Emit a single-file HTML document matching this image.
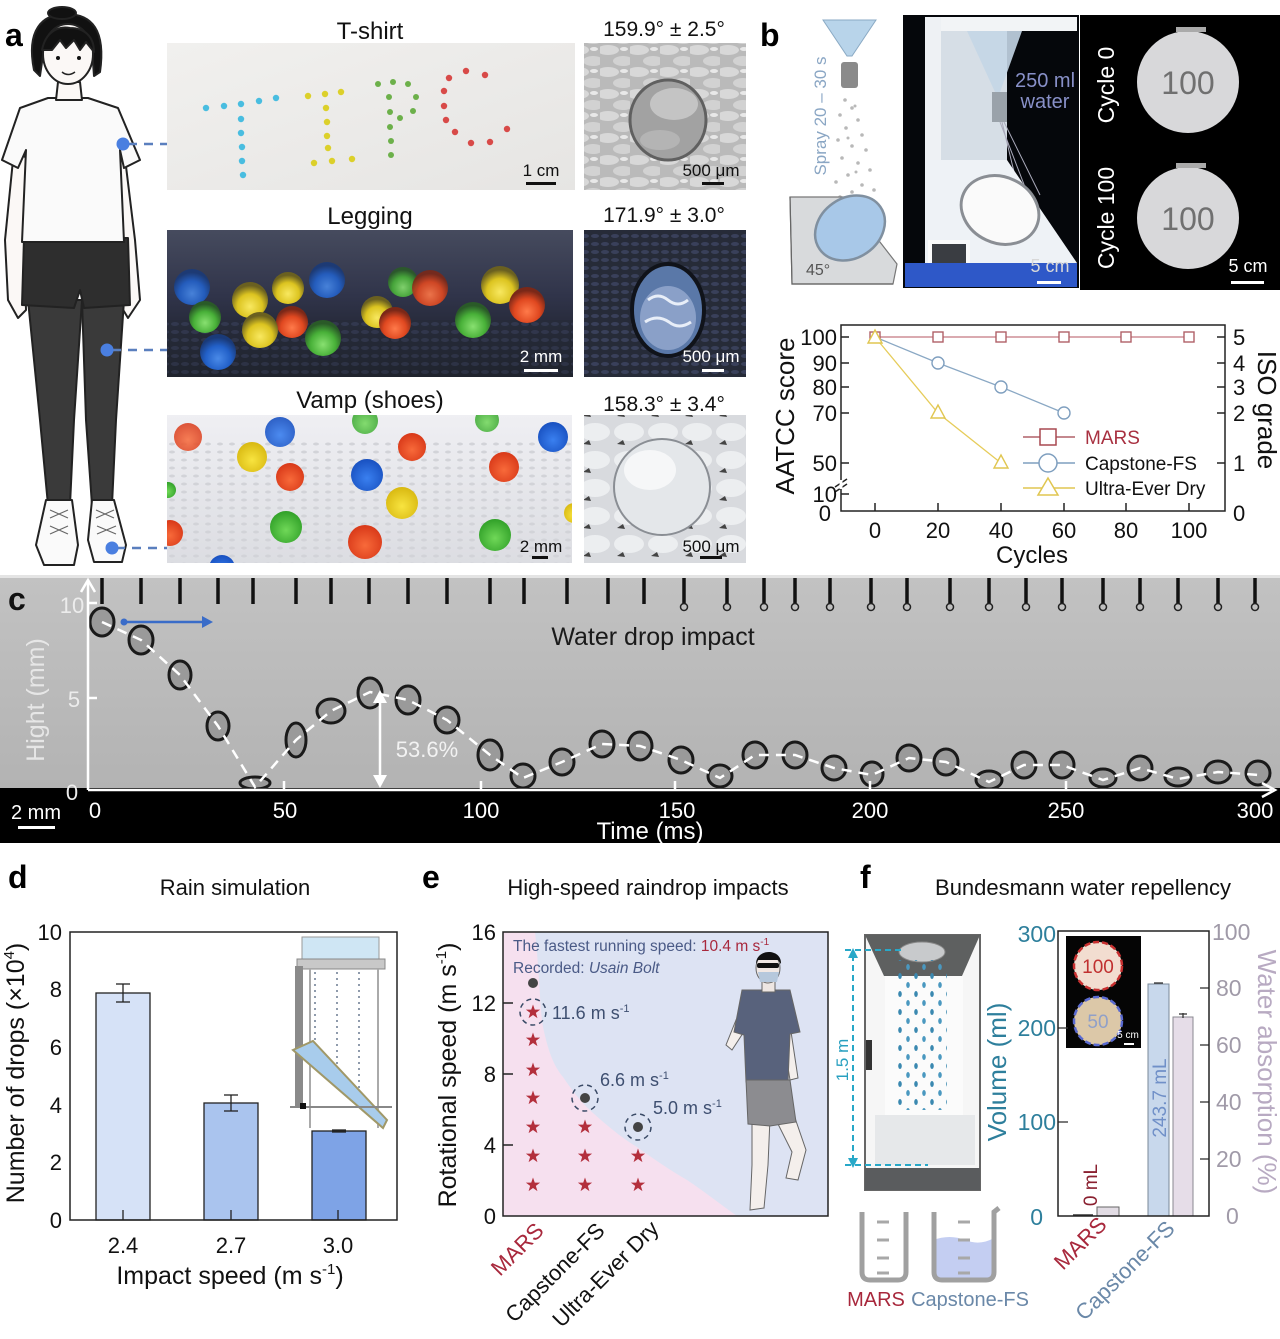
<!DOCTYPE html>
<html><head><meta charset="utf-8"><style>
html,body{margin:0;padding:0;background:#fff;}
svg{display:block;font-family:"Liberation Sans",Arial,sans-serif;}
</style></head><body>
<svg width="1280" height="1339" viewBox="0 0 1280 1339" xmlns="http://www.w3.org/2000/svg">
<defs>
  <radialGradient id="gBlue" cx="50%" cy="68%" r="58%"><stop offset="0" stop-color="#4a8ae8"/><stop offset="0.6" stop-color="#2260c8"/><stop offset="1" stop-color="#1a3a78"/></radialGradient>
  <radialGradient id="gGreen" cx="50%" cy="68%" r="58%"><stop offset="0" stop-color="#88e070"/><stop offset="0.6" stop-color="#48b038"/><stop offset="1" stop-color="#2a5a28"/></radialGradient>
  <radialGradient id="gYellow" cx="50%" cy="68%" r="58%"><stop offset="0" stop-color="#f8e860"/><stop offset="0.6" stop-color="#dcc420"/><stop offset="1" stop-color="#6a6020"/></radialGradient>
  <radialGradient id="gRed" cx="50%" cy="68%" r="58%"><stop offset="0" stop-color="#ff7a4a"/><stop offset="0.6" stop-color="#e04820"/><stop offset="1" stop-color="#7a2818"/></radialGradient>
  <radialGradient id="vBlue" cx="50%" cy="60%" r="60%"><stop offset="0" stop-color="#3a80f0"/><stop offset="1" stop-color="#1850c0"/></radialGradient>
  <radialGradient id="vGreen" cx="50%" cy="60%" r="60%"><stop offset="0" stop-color="#70d858"/><stop offset="1" stop-color="#30a028"/></radialGradient>
  <radialGradient id="vYellow" cx="50%" cy="60%" r="60%"><stop offset="0" stop-color="#f8e440"/><stop offset="1" stop-color="#d8b810"/></radialGradient>
  <radialGradient id="vRed" cx="50%" cy="60%" r="60%"><stop offset="0" stop-color="#f86a3a"/><stop offset="1" stop-color="#d83818"/></radialGradient>
  <linearGradient id="legBg" x1="0" y1="0" x2="0" y2="1"><stop offset="0" stop-color="#464b5e"/><stop offset="0.45" stop-color="#30344a"/><stop offset="1" stop-color="#17191f"/></linearGradient>
  <linearGradient id="tBg" x1="0" y1="0" x2="1" y2="1"><stop offset="0" stop-color="#f1f0ee"/><stop offset="1" stop-color="#e6e5e3"/></linearGradient>
  <linearGradient id="vBg" x1="0" y1="0" x2="0" y2="1"><stop offset="0" stop-color="#efeff3"/><stop offset="1" stop-color="#dcdde2"/></linearGradient>
  <linearGradient id="cBg" x1="0" y1="0" x2="0" y2="1"><stop offset="0" stop-color="#c2c2c2"/><stop offset="1" stop-color="#b3b3b3"/></linearGradient>
  <pattern id="knit1" width="30" height="22" patternUnits="userSpaceOnUse"><rect width="30" height="22" fill="#bababa"/><ellipse cx="8" cy="6" rx="11" ry="5" fill="#d8d8d8"/><ellipse cx="23" cy="17" rx="10" ry="5" fill="#d2d2d2"/><ellipse cx="24" cy="5" rx="4" ry="2" fill="#e8e8e8"/></pattern>
  <pattern id="knit2" width="10" height="8" patternUnits="userSpaceOnUse"><rect width="10" height="8" fill="#262b38"/><ellipse cx="5" cy="4" rx="4" ry="2" fill="#39405a"/></pattern>
  <pattern id="knit3" width="34" height="28" patternUnits="userSpaceOnUse"><rect width="34" height="28" fill="#d8dade"/><ellipse cx="17" cy="12" rx="15" ry="9" fill="#eceef0"/><path d="M5 24 l6 -4 l2 5z" fill="#444"/></pattern>
  <pattern id="dots" width="12" height="8" patternUnits="userSpaceOnUse"><ellipse cx="4" cy="4" rx="3" ry="1.5" fill="#d2d3d8"/></pattern>
  <pattern id="rain" width="16" height="18" patternUnits="userSpaceOnUse"><ellipse cx="4" cy="4" rx="1.8" ry="3" fill="#3a88b0"/><ellipse cx="12" cy="13" rx="1.8" ry="3" fill="#4a98c0"/></pattern>
  <clipPath id="cp1"><rect x="167" y="43" width="408" height="147"/></clipPath>
  <clipPath id="cp2"><rect x="167" y="230" width="406" height="147"/></clipPath>
  <clipPath id="cp3"><rect x="167" y="415" width="405" height="148"/></clipPath>
  <clipPath id="cs1"><rect x="584" y="43" width="162" height="147"/></clipPath>
  <clipPath id="cs3"><rect x="584" y="415" width="162" height="148"/></clipPath>
  <path id="star" d="M0,-7.5 L1.76,-2.43 L7.13,-2.32 L2.85,0.93 L4.41,6.07 L0,3 L-4.41,6.07 L-2.85,0.93 L-7.13,-2.32 L-1.76,-2.43Z" fill="#b32f3c"/>
</defs>

<!-- ================= PANEL A ================= -->
<text x="5" y="46" font-size="32" font-weight="bold">a</text>
<g stroke="#222" stroke-width="2" stroke-linejoin="round">
  <path d="M14 150 L5 240 L8 300 L18 318 L26 310 L24 240 L30 160Z" fill="#fbf8f6"/>
  <path d="M124 150 L135 240 L140 300 L128 318 L122 308 L118 240 L112 160Z" fill="#fbf8f6"/>
  <path d="M28 300 L82 300 L74 420 L70 505 L48 505 L40 420Z" fill="#3a3a3a"/>
  <path d="M82 300 L124 300 L116 420 L112 505 L92 505 L86 420Z" fill="#3a3a3a"/>
  <path d="M24 238 L128 238 L130 305 L84 308 L80 290 L74 308 L22 305Z" fill="#2e2e2e"/>
  <path d="M48 98 L88 98 L118 108 L140 160 L124 168 L120 150 L124 242 L22 242 L26 150 L18 168 L2 160 L20 108Z" fill="#fafafa"/>
  <path d="M58 82 L80 82 L82 100 L56 100Z" fill="#fbf8f6"/>
  <path d="M34 70 C26 30 42 14 66 14 C92 14 106 30 100 72 L94 76 L92 48 L44 48 L40 76Z" fill="#111"/>
  <ellipse cx="68" cy="54" rx="25" ry="30" fill="#fbf8f6"/>
  <path d="M42 50 C46 30 60 26 70 28 C84 28 94 36 94 52 L86 42 L80 50 L74 40 L66 48 L60 40 L52 50Z" fill="#111"/>
  <ellipse cx="62" cy="13" rx="14" ry="6" fill="#111"/>
  <path d="M46 500 L72 500 L78 545 L74 565 L44 565 L36 545Z" fill="#fafafa"/>
  <path d="M92 500 L114 500 L126 545 L122 562 L94 562 L88 540Z" fill="#fafafa"/>
</g>
<g stroke="#666" stroke-width="1.2">
  <path d="M50 510 L68 518 M50 518 L68 510 M50 526 L68 534 M50 534 L68 526"/>
  <path d="M96 510 L114 518 M96 518 L114 510 M97 526 L116 534 M97 534 L116 526"/>
</g>
<circle cx="58" cy="58" r="2" fill="#111"/><circle cx="79" cy="58" r="2" fill="#111"/>
<path d="M62 72 Q68 77 75 72" stroke="#222" stroke-width="1.5" fill="none"/>
<g stroke="#5a7fbe" stroke-width="2.5" stroke-dasharray="9 7">
  <line x1="128" y1="144" x2="198" y2="144"/>
  <line x1="112" y1="350" x2="180" y2="350"/>
  <line x1="116" y1="548" x2="180" y2="548"/>
</g>
<circle cx="123" cy="144" r="6.5" fill="#4a7fe0"/>
<circle cx="107" cy="350" r="6.5" fill="#4a7fe0"/>
<circle cx="112" cy="548" r="6.5" fill="#4a7fe0"/>

<g font-size="24" text-anchor="middle" fill="#111">
  <text x="370" y="39">T-shirt</text>
  <text x="370" y="224">Legging</text>
  <text x="370" y="408">Vamp (shoes)</text>
</g>
<g font-size="21" text-anchor="middle" fill="#111">
  <text x="664" y="36">159.9° ± 2.5°</text>
  <text x="664" y="222">171.9° ± 3.0°</text>
  <text x="664" y="411">158.3° ± 3.4°</text>
</g>

<!-- photo 1 -->
<rect x="167" y="43" width="408" height="147" fill="url(#tBg)"/>
<g fill="#49bde0">
  <circle cx="206" cy="108" r="3.2"/><circle cx="224" cy="106" r="3.2"/><circle cx="241" cy="104" r="3.2"/><circle cx="259" cy="101" r="3.2"/><circle cx="276" cy="98" r="3.2"/>
  <circle cx="241" cy="119" r="3.2"/><circle cx="241" cy="133" r="3.2"/><circle cx="242" cy="147" r="3.2"/><circle cx="242" cy="161" r="3.2"/><circle cx="243" cy="175" r="3.2"/>
</g>
<g fill="#dcd02a">
  <circle cx="308" cy="96" r="3.2"/><circle cx="325" cy="94" r="3.2"/><circle cx="341" cy="92" r="3.2"/>
  <circle cx="326" cy="108" r="3.2"/><circle cx="327" cy="122" r="3.2"/><circle cx="327" cy="136" r="3.2"/><circle cx="328" cy="148" r="3.2"/>
  <circle cx="314" cy="163" r="3.2"/><circle cx="332" cy="161" r="3.2"/><circle cx="352" cy="159" r="3.2"/>
</g>
<g fill="#6cb04a">
  <circle cx="378" cy="84" r="3"/><circle cx="393" cy="82" r="3"/><circle cx="408" cy="84" r="3"/><circle cx="416" cy="97" r="3"/><circle cx="413" cy="111" r="3"/><circle cx="400" cy="118" r="3"/>
  <circle cx="389" cy="97" r="3"/><circle cx="390" cy="112" r="3"/><circle cx="390" cy="127" r="3"/><circle cx="391" cy="141" r="3"/><circle cx="391" cy="155" r="3"/>
</g>
<g fill="#d84a48">
  <circle cx="449" cy="78" r="3.2"/><circle cx="466" cy="71" r="3.2"/><circle cx="485" cy="75" r="3.2"/><circle cx="444" cy="91" r="3.2"/><circle cx="444" cy="106" r="3.2"/><circle cx="446" cy="120" r="3.2"/><circle cx="455" cy="132" r="3.2"/><circle cx="471" cy="143" r="3.2"/><circle cx="490" cy="142" r="3.2"/><circle cx="507" cy="129" r="3.2"/>
</g>
<text x="541" y="176" font-size="17" text-anchor="middle" fill="#111">1 cm</text>
<rect x="526" y="182" width="30" height="3" fill="#111"/>
<!-- small photo 1 -->
<g clip-path="url(#cs1)">
<rect x="584" y="43" width="162" height="147" fill="url(#knit1)"/>
<ellipse cx="668" cy="120" rx="38" ry="40" fill="#a2a2a2" stroke="#606060" stroke-width="3"/>
<ellipse cx="674" cy="104" rx="24" ry="16" fill="#c4c4c4"/>
<ellipse cx="660" cy="140" rx="20" ry="10" fill="#b4b4b4"/>
</g>
<text x="711" y="176" font-size="17" text-anchor="middle" fill="#111">500 μm</text>
<rect x="702" y="182" width="22" height="3" fill="#111"/>

<!-- photo 2 legging -->
<g clip-path="url(#cp2)">
<rect x="167" y="230" width="406" height="147" fill="url(#legBg)"/>
<rect x="167" y="320" width="406" height="57" fill="url(#knit2)" opacity="0.6"/>
<g>
  <circle cx="192" cy="287" r="18" fill="url(#gBlue)" opacity="0.9"/>
  <circle cx="327" cy="280" r="18" fill="url(#gBlue)" opacity="0.9"/>
  <circle cx="250" cy="300" r="18" fill="url(#gYellow)"/>
  <circle cx="288" cy="288" r="16" fill="url(#gYellow)"/>
  <circle cx="403" cy="282" r="15" fill="url(#gGreen)" opacity="0.9"/>
  <circle cx="430" cy="288" r="18" fill="url(#gRed)" opacity="0.9"/>
  <circle cx="500" cy="285" r="19" fill="url(#gYellow)"/>
  <circle cx="527" cy="305" r="18" fill="url(#gRed)"/>
  <circle cx="205" cy="317" r="16" fill="url(#gGreen)"/>
  <circle cx="292" cy="322" r="16" fill="url(#gRed)"/>
  <circle cx="260" cy="330" r="18" fill="url(#gYellow)"/>
  <circle cx="377" cy="312" r="16" fill="url(#gYellow)"/>
  <circle cx="395" cy="323" r="16" fill="url(#gRed)"/>
  <circle cx="473" cy="320" r="18" fill="url(#gGreen)"/>
  <circle cx="323" cy="338" r="18" fill="url(#gGreen)"/>
  <circle cx="218" cy="352" r="18" fill="url(#gBlue)"/>
</g>
</g>
<text x="541" y="362" font-size="17" text-anchor="middle" fill="#fff">2 mm</text>
<rect x="524" y="369" width="34" height="3" fill="#fff"/>
<!-- small photo 2 -->
<rect x="584" y="230" width="162" height="147" fill="url(#knit2)"/>
<ellipse cx="668" cy="310" rx="36" ry="46" fill="#5a78a8" stroke="#10131a" stroke-width="4"/>
<ellipse cx="668" cy="318" rx="28" ry="32" fill="#8aa0c8"/>
<path d="M648 300 q10 -8 20 0 q10 8 20 0 M645 322 q12 -8 24 0 q10 8 22 0" stroke="#e8eef8" stroke-width="3" fill="none"/>
<text x="711" y="362" font-size="17" text-anchor="middle" fill="#fff">500 μm</text>
<rect x="702" y="369" width="22" height="3" fill="#fff"/>

<!-- photo 3 vamp -->
<g clip-path="url(#cp3)">
<rect x="167" y="415" width="405" height="148" fill="url(#vBg)"/>
<rect x="167" y="440" width="405" height="123" fill="url(#dots)"/>
<g>
  <circle cx="188" cy="437" r="14" fill="url(#vRed)" opacity="0.85"/>
  <circle cx="280" cy="432" r="15" fill="url(#vBlue)" opacity="0.9"/>
  <circle cx="365" cy="421" r="13" fill="url(#vGreen)" opacity="0.85"/>
  <circle cx="487" cy="420" r="12" fill="url(#vGreen)" opacity="0.85"/>
  <circle cx="553" cy="437" r="15" fill="url(#vBlue)"/>
  <circle cx="252" cy="457" r="15" fill="url(#vYellow)"/>
  <circle cx="412" cy="447" r="14" fill="url(#vRed)"/>
  <circle cx="290" cy="477" r="14" fill="url(#vRed)"/>
  <circle cx="367" cy="475" r="16" fill="url(#vBlue)"/>
  <circle cx="504" cy="467" r="15" fill="url(#vRed)"/>
  <circle cx="402" cy="503" r="16" fill="url(#vYellow)"/>
  <circle cx="168" cy="490" r="8" fill="url(#vGreen)"/>
  <circle cx="286" cy="527" r="16" fill="url(#vGreen)"/>
  <circle cx="365" cy="542" r="17" fill="url(#vRed)"/>
  <circle cx="495" cy="535" r="16" fill="url(#vGreen)"/>
  <circle cx="170" cy="533" r="13" fill="url(#vRed)"/>
  <circle cx="222" cy="568" r="13" fill="url(#vBlue)"/>
  <circle cx="574" cy="513" r="10" fill="url(#vYellow)"/>
</g>
</g>
<text x="541" y="552" font-size="17" text-anchor="middle" fill="#111">2 mm</text>
<rect x="532" y="556" width="16" height="3" fill="#111"/>
<!-- small photo 3 -->
<g clip-path="url(#cs3)">
<rect x="584" y="415" width="162" height="148" fill="url(#knit3)"/>
<circle cx="662" cy="487" r="48" fill="#e4e7ea" stroke="#8a8e94" stroke-width="2"/>
<ellipse cx="650" cy="470" rx="26" ry="20" fill="#f6f7f8"/>
</g>
<text x="711" y="552" font-size="17" text-anchor="middle" fill="#111">500 μm</text>
<rect x="700" y="556" width="22" height="3" fill="#111"/>

<!-- ================= PANEL B ================= -->
<text x="760" y="46" font-size="32" font-weight="bold">b</text>
<path d="M823 20 L876 20 L852 56 L847 56Z" fill="#b8d4ea" stroke="#8aaac4" stroke-width="1"/>
<rect x="841" y="62" width="17" height="26" fill="#8a8a8a" rx="3"/>
<g fill="#b8b8b8">
  <circle cx="845" cy="100" r="1.8"/><circle cx="852" cy="108" r="1.8"/><circle cx="840" cy="115" r="1.8"/><circle cx="858" cy="120" r="1.8"/><circle cx="846" cy="128" r="1.8"/><circle cx="862" cy="135" r="1.8"/><circle cx="838" cy="140" r="1.8"/><circle cx="852" cy="146" r="1.8"/><circle cx="866" cy="150" r="1.8"/><circle cx="842" cy="158" r="1.8"/><circle cx="858" cy="163" r="1.8"/><circle cx="870" cy="170" r="1.8"/><circle cx="848" cy="175" r="1.8"/><circle cx="836" cy="182" r="1.8"/><circle cx="862" cy="185" r="1.8"/><circle cx="874" cy="190" r="1.8"/><circle cx="852" cy="192" r="1.8"/><circle cx="840" cy="197" r="1.8"/><circle cx="866" cy="200" r="1.8"/><circle cx="878" cy="205" r="1.8"/><circle cx="855" cy="106" r="1.5"/><circle cx="848" cy="138" r="1.5"/><circle cx="856" cy="172" r="1.5"/>
</g>
<path d="M790 197 L845 197 L897 264 L893 284 L792 284Z" fill="#d8dadc" stroke="#777" stroke-width="1.2"/>
<path d="M790 197 L792 284 L893 284" fill="none" stroke="#666" stroke-width="1.2"/>
<ellipse cx="850" cy="228" rx="37" ry="30" transform="rotate(-35 850 228)" fill="#a8c8e8" stroke="#8090a0" stroke-width="2.5"/>
<text x="806" y="275" font-size="16" fill="#555">45°</text>
<text transform="translate(826 116) rotate(-90)" font-size="17" fill="#8aa6c4" text-anchor="middle">Spray 20 – 30 s</text>
<!-- middle photo -->
<rect x="903" y="15" width="176" height="273" fill="#05070b"/>
<rect x="925" y="17" width="152" height="14" fill="#f2f4f6"/>
<rect x="925" y="17" width="16" height="250" fill="#eef1f4"/>
<path d="M941 31 L1007 31 L1007 160 L941 160Z" fill="#d6dee6"/>
<path d="M967 31 L1022 31 L1000 92 L995 92Z" fill="#c4d6e6" opacity="0.9"/>
<rect x="992" y="92" width="15" height="30" fill="#9aa2aa"/>
<path d="M1000 122 L1030 200 M1004 122 L1040 195 M1002 122 L1022 205" stroke="#aab" stroke-width="1"/>
<path d="M925 160 L1007 160 L1077 263 L925 267Z" fill="#eef2f6"/>
<ellipse cx="1000" cy="210" rx="40" ry="33" transform="rotate(25 1000 210)" fill="#fafafa" stroke="#8a8e94" stroke-width="3"/>
<rect x="928" y="240" width="42" height="30" fill="#fafafa"/>
<rect x="932" y="244" width="34" height="22" fill="#3a3d42"/>
<rect x="905" y="263" width="172" height="24" fill="#2e58c8"/>
<text x="1045" y="87" font-size="20" text-anchor="middle" fill="#8890c8">250 ml</text>
<text x="1045" y="108" font-size="20" text-anchor="middle" fill="#8890c8">water</text>
<text x="1050" y="272" font-size="18" text-anchor="middle" fill="#d8d8d8">5 cm</text>
<rect x="1037" y="281" width="24" height="3" fill="#fff"/>
<!-- right photo -->
<rect x="1080" y="15" width="200" height="275" fill="#000"/>
<circle cx="1188" cy="82" r="51" fill="#d8d8da"/>
<circle cx="1188" cy="218" r="51" fill="#d8d8da"/>
<rect x="1176" y="27" width="30" height="5" fill="#aaa"/>
<rect x="1176" y="163" width="30" height="5" fill="#aaa"/>
<text x="1188" y="94" font-size="32" text-anchor="middle" fill="#707070">100</text>
<text x="1188" y="230" font-size="32" text-anchor="middle" fill="#707070">100</text>
<text transform="translate(1114 85) rotate(-90)" font-size="23" fill="#fff" text-anchor="middle">Cycle 0</text>
<text transform="translate(1114 218) rotate(-90)" font-size="23" fill="#fff" text-anchor="middle">Cycle 100</text>
<text x="1248" y="272" font-size="18" text-anchor="middle" fill="#fff">5 cm</text>
<rect x="1231" y="281" width="33" height="3" fill="#fff"/>

<!-- panel b chart -->
<rect x="841" y="325" width="384" height="186" fill="none" stroke="#222" stroke-width="1.5"/>
<g stroke="#222" stroke-width="1.5">
  <line x1="841" y1="337" x2="849" y2="337"/><line x1="841" y1="363" x2="849" y2="363"/><line x1="841" y1="387" x2="849" y2="387"/><line x1="841" y1="413" x2="849" y2="413"/><line x1="841" y1="463" x2="849" y2="463"/><line x1="841" y1="494" x2="849" y2="494"/>
  <line x1="1217" y1="337" x2="1225" y2="337"/><line x1="1217" y1="363" x2="1225" y2="363"/><line x1="1217" y1="387" x2="1225" y2="387"/><line x1="1217" y1="413" x2="1225" y2="413"/><line x1="1217" y1="463" x2="1225" y2="463"/>
  <line x1="875" y1="511" x2="875" y2="503"/><line x1="938" y1="511" x2="938" y2="503"/><line x1="1001" y1="511" x2="1001" y2="503"/><line x1="1064" y1="511" x2="1064" y2="503"/><line x1="1126" y1="511" x2="1126" y2="503"/><line x1="1189" y1="511" x2="1189" y2="503"/>
  <line x1="835" y1="487" x2="847" y2="479"/><line x1="835" y1="492" x2="847" y2="484"/>
</g>
<line x1="841" y1="480" x2="841" y2="489" stroke="#fff" stroke-width="3"/>
<g font-size="22" fill="#111" text-anchor="end">
  <text x="837" y="345">100</text><text x="837" y="371">90</text><text x="837" y="395">80</text><text x="837" y="421">70</text><text x="837" y="471">50</text><text x="837" y="502">10</text><text x="831" y="521">0</text>
</g>
<g font-size="22" fill="#111">
  <text x="1233" y="345">5</text><text x="1233" y="371">4</text><text x="1233" y="395">3</text><text x="1233" y="421">2</text><text x="1233" y="471">1</text><text x="1233" y="521">0</text>
</g>
<g font-size="22" fill="#111" text-anchor="middle">
  <text x="875" y="538">0</text><text x="938" y="538">20</text><text x="1001" y="538">40</text><text x="1064" y="538">60</text><text x="1126" y="538">80</text><text x="1189" y="538">100</text>
</g>
<text x="1032" y="563" font-size="24" text-anchor="middle" fill="#111">Cycles</text>
<text transform="translate(794 416) rotate(-90)" font-size="26" text-anchor="middle" fill="#111">AATCC score</text>
<text transform="translate(1258 410) rotate(90)" font-size="26" text-anchor="middle" fill="#111">ISO grade</text>
<polyline points="875,337 1189,337" stroke="#c47880" stroke-width="1.3" fill="none"/>
<polyline points="875,337 938,363 1001,387 1064,413" stroke="#8aa8c4" stroke-width="1.3" fill="none"/>
<polyline points="875,337 938,413 1001,463" stroke="#e6cc5a" stroke-width="1.3" fill="none"/>
<g fill="#fff" stroke="#b06068" stroke-width="1.4">
  <rect x="870" y="332" width="10" height="10"/><rect x="933" y="332" width="10" height="10"/><rect x="996" y="332" width="10" height="10"/><rect x="1059" y="332" width="10" height="10"/><rect x="1121" y="332" width="10" height="10"/><rect x="1184" y="332" width="10" height="10"/>
</g>
<g fill="#fff" stroke="#7f9fbf" stroke-width="1.4">
  <circle cx="938" cy="363" r="6"/><circle cx="1001" cy="387" r="6"/><circle cx="1064" cy="413" r="6"/>
</g>
<g fill="#fff" stroke="#e0c650" stroke-width="1.4">
  <path d="M875 330 L882 343 L868 343Z"/><path d="M938 405 L945 418 L931 418Z"/><path d="M1001 455 L1008 468 L994 468Z"/>
</g>
<line x1="1023" y1="437" x2="1075" y2="437" stroke="#b06068" stroke-width="1.5"/>
<rect x="1040" y="429" width="16" height="16" fill="#fff" stroke="#a84850" stroke-width="1.5"/>
<line x1="1023" y1="463" x2="1075" y2="463" stroke="#7f9fbf" stroke-width="1.5"/>
<circle cx="1048" cy="463" r="9" fill="#fff" stroke="#7f9fbf" stroke-width="1.5"/>
<line x1="1023" y1="488" x2="1075" y2="488" stroke="#e0c650" stroke-width="1.5"/>
<path d="M1048 478 L1058 495 L1038 495Z" fill="#fff" stroke="#e0c650" stroke-width="1.5"/>
<text x="1085" y="444" font-size="19" fill="#a83040">MARS</text>
<text x="1085" y="470" font-size="19" fill="#111">Capstone-FS</text>
<text x="1085" y="495" font-size="19" fill="#111">Ultra-Ever Dry</text>

<!-- ================= PANEL C ================= -->
<rect x="0" y="575" width="1280" height="213" fill="url(#cBg)"/>
<rect x="0" y="575" width="1280" height="3" fill="#e4e4e4"/>
<rect x="0" y="788" width="1280" height="55" fill="#000"/>
<g stroke="#111" stroke-width="3.5">
  <line x1="102" y1="578" x2="102" y2="604"/><line x1="141" y1="578" x2="141" y2="604"/><line x1="180" y1="578" x2="180" y2="604"/><line x1="218" y1="578" x2="218" y2="604"/><line x1="253" y1="578" x2="253" y2="604"/><line x1="296" y1="578" x2="296" y2="604"/><line x1="331" y1="578" x2="331" y2="604"/><line x1="369" y1="578" x2="369" y2="604"/><line x1="408" y1="578" x2="408" y2="604"/><line x1="447" y1="578" x2="447" y2="604"/><line x1="490" y1="578" x2="490" y2="604"/><line x1="524" y1="578" x2="524" y2="604"/><line x1="567" y1="578" x2="567" y2="604"/><line x1="608" y1="578" x2="608" y2="604"/><line x1="644" y1="578" x2="644" y2="604"/><line x1="684" y1="578" x2="684" y2="604"/><line x1="727" y1="578" x2="727" y2="604"/><line x1="764" y1="578" x2="764" y2="604"/><line x1="795" y1="578" x2="795" y2="604"/><line x1="830" y1="578" x2="830" y2="604"/><line x1="871" y1="578" x2="871" y2="604"/><line x1="907" y1="578" x2="907" y2="604"/><line x1="950" y1="578" x2="950" y2="604"/><line x1="989" y1="578" x2="989" y2="604"/><line x1="1026" y1="578" x2="1026" y2="604"/><line x1="1062" y1="578" x2="1062" y2="604"/><line x1="1103" y1="578" x2="1103" y2="604"/><line x1="1140" y1="578" x2="1140" y2="604"/><line x1="1178" y1="578" x2="1178" y2="604"/><line x1="1218" y1="578" x2="1218" y2="604"/><line x1="1255" y1="578" x2="1255" y2="604"/>
</g>
<g fill="none" stroke="#222" stroke-width="1.5">
  <circle cx="684" cy="607" r="3.5"/><circle cx="727" cy="607" r="3.5"/><circle cx="764" cy="607" r="3.5"/><circle cx="795" cy="607" r="3.5"/><circle cx="830" cy="607" r="3.5"/><circle cx="871" cy="607" r="3.5"/><circle cx="907" cy="607" r="3.5"/><circle cx="950" cy="607" r="3.5"/><circle cx="989" cy="607" r="3.5"/><circle cx="1026" cy="607" r="3.5"/><circle cx="1062" cy="607" r="3.5"/><circle cx="1103" cy="607" r="3.5"/><circle cx="1140" cy="607" r="3.5"/><circle cx="1178" cy="607" r="3.5"/><circle cx="1218" cy="607" r="3.5"/><circle cx="1255" cy="607" r="3.5"/>
</g>
<g fill="#9a9a9a" stroke="#1a1a1a" stroke-width="3">
  <ellipse cx="102" cy="622" rx="12" ry="14"/><ellipse cx="141" cy="640" rx="12" ry="14"/><ellipse cx="180" cy="675" rx="11" ry="14"/><ellipse cx="218" cy="726" rx="11" ry="14"/>
  <ellipse cx="255" cy="783" rx="15" ry="6"/>
  <ellipse cx="296" cy="740" rx="10" ry="17"/><ellipse cx="331" cy="711" rx="14" ry="12"/><ellipse cx="370" cy="693" rx="12" ry="15"/><ellipse cx="408" cy="700" rx="12" ry="14"/><ellipse cx="447" cy="720" rx="12" ry="13"/>
  <ellipse cx="490" cy="755" rx="12" ry="15"/><ellipse cx="523" cy="776" rx="12" ry="12"/><ellipse cx="562" cy="762" rx="12" ry="13"/><ellipse cx="602" cy="744" rx="12" ry="13"/><ellipse cx="640" cy="746" rx="12" ry="14"/>
  <ellipse cx="681" cy="760" rx="12" ry="13"/><ellipse cx="720" cy="776" rx="12" ry="11"/><ellipse cx="755" cy="755" rx="12" ry="13"/><ellipse cx="795" cy="755" rx="12" ry="13"/><ellipse cx="834" cy="768" rx="12" ry="12"/>
  <ellipse cx="872" cy="774" rx="11" ry="12"/><ellipse cx="909" cy="758" rx="12" ry="13"/><ellipse cx="946" cy="762" rx="12" ry="13"/><ellipse cx="989" cy="780" rx="13" ry="9"/><ellipse cx="1024" cy="765" rx="12" ry="13"/>
  <ellipse cx="1062" cy="765" rx="12" ry="13"/><ellipse cx="1103" cy="778" rx="13" ry="9"/><ellipse cx="1140" cy="768" rx="12" ry="12"/><ellipse cx="1178" cy="777" rx="13" ry="9"/><ellipse cx="1218" cy="772" rx="13" ry="11"/><ellipse cx="1258" cy="773" rx="12" ry="12"/>
</g>
<polyline points="102,622 141,640 180,675 218,726 255,787 296,740 331,711 370,692 408,700 447,720 490,755 523,778 562,762 602,744 640,746 681,760 720,778 755,755 795,755 834,768 872,775 909,758 946,762 989,782 1024,765 1062,765 1103,780 1140,768 1178,779 1218,772 1258,775" fill="none" stroke="#fff" stroke-width="2.5" stroke-dasharray="10 7"/>
<g stroke="#fff" stroke-width="2.5" fill="none">
  <line x1="88" y1="790" x2="88" y2="582"/><path d="M81 592 L88 580 L95 592"/>
  <line x1="88" y1="790" x2="1272" y2="790"/><path d="M1262 783 L1275 790 L1262 797"/>
  <line x1="88" y1="603" x2="97" y2="603"/><line x1="88" y1="698" x2="97" y2="698"/>
  <line x1="284" y1="790" x2="284" y2="781"/><line x1="481" y1="790" x2="481" y2="781"/><line x1="675" y1="790" x2="675" y2="781"/><line x1="870" y1="790" x2="870" y2="781"/><line x1="1066" y1="790" x2="1066" y2="781"/>
</g>
<g font-size="22" fill="#ececec" text-anchor="middle">
  <text x="72" y="613">10</text><text x="74" y="707">5</text><text x="72" y="800">0</text>
</g>
<text x="8" y="610" font-size="32" font-weight="bold" fill="#111">c</text>
<text transform="translate(44 700) rotate(-90)" font-size="25" text-anchor="middle" fill="#e6e6e6">Hight (mm)</text>
<line x1="122" y1="622" x2="205" y2="622" stroke="#3a6cc8" stroke-width="2.5"/>
<circle cx="124" cy="622" r="3.5" fill="#3a6cc8"/>
<path d="M202 616 L213 622 L202 628Z" fill="#3a6cc8"/>
<text x="653" y="645" font-size="25" text-anchor="middle" fill="#1a1a1a">Water drop impact</text>
<line x1="380" y1="700" x2="380" y2="778" stroke="#fff" stroke-width="2.5"/>
<path d="M373 703 L380 690 L387 703Z M373 775 L380 788 L387 775Z" fill="#fff"/>
<text x="427" y="757" font-size="22" text-anchor="middle" fill="#f2f2f2">53.6%</text>
<g font-size="22" fill="#fff" text-anchor="middle">
  <text x="95" y="818">0</text><text x="285" y="818">50</text><text x="481" y="818">100</text><text x="677" y="818">150</text><text x="870" y="818">200</text><text x="1066" y="818">250</text><text x="1255" y="818">300</text>
</g>
<text x="650" y="839" font-size="24" text-anchor="middle" fill="#fff">Time (ms)</text>
<text x="36" y="819" font-size="20" text-anchor="middle" fill="#fff">2 mm</text>
<rect x="18" y="826" width="37" height="3" fill="#fff"/>

<!-- ================= PANEL D ================= -->
<text x="8" y="888" font-size="32" font-weight="bold">d</text>
<text x="235" y="895" font-size="22" text-anchor="middle" fill="#111">Rain simulation</text>
<rect x="96" y="993" width="54" height="227" fill="#d6e2f7" stroke="#222" stroke-width="1.3"/>
<rect x="204" y="1103" width="54" height="117" fill="#aac4ee" stroke="#222" stroke-width="1.3"/>
<rect x="312" y="1131" width="54" height="89" fill="#7ea3e6" stroke="#222" stroke-width="1.3"/>
<g stroke="#222" stroke-width="1.3">
  <line x1="123" y1="984" x2="123" y2="1002"/><line x1="116" y1="984" x2="130" y2="984"/><line x1="116" y1="1002" x2="130" y2="1002"/>
  <line x1="231" y1="1095" x2="231" y2="1111"/><line x1="224" y1="1095" x2="238" y2="1095"/><line x1="224" y1="1111" x2="238" y2="1111"/>
  <line x1="332" y1="1130" x2="346" y2="1130"/><line x1="332" y1="1132" x2="346" y2="1132"/>
  <line x1="123" y1="1220" x2="123" y2="1210"/><line x1="231" y1="1220" x2="231" y2="1210"/><line x1="338" y1="1220" x2="338" y2="1210"/>
</g>
<rect x="302" y="937" width="77" height="22" fill="#cfe6f4" stroke="#999" stroke-width="1"/>
<rect x="297" y="959" width="88" height="10" fill="#c8c8c8" stroke="#888" stroke-width="1"/>
<rect x="295" y="966" width="8" height="142" fill="#8a8a8a"/>
<line x1="310" y1="969" x2="310" y2="1128" stroke="#aaa" stroke-width="2"/>
<line x1="378" y1="969" x2="378" y2="1128" stroke="#aaa" stroke-width="2"/>
<g stroke="#6a7a90" stroke-width="1.5" stroke-dasharray="2 4">
  <line x1="315" y1="972" x2="315" y2="1060"/><line x1="337" y1="972" x2="337" y2="1080"/><line x1="359" y1="972" x2="359" y2="1095"/>
</g>
<path d="M293 1050 L313 1041 L387 1120 L383 1128Z" fill="#a8ccec" stroke="#a09868" stroke-width="2"/>
<line x1="290" y1="1107" x2="392" y2="1107" stroke="#888" stroke-width="2"/>
<rect x="300" y="1103" width="6" height="6" fill="#111"/>
<rect x="70" y="932" width="327" height="288" fill="none" stroke="#222" stroke-width="1.5"/>
<g font-size="22" fill="#111" text-anchor="end">
  <text x="62" y="940">10</text><text x="62" y="997">8</text><text x="62" y="1055">6</text><text x="62" y="1113">4</text><text x="62" y="1170">2</text><text x="62" y="1228">0</text>
</g>
<g font-size="22" fill="#111" text-anchor="middle">
  <text x="123" y="1253">2.4</text><text x="231" y="1253">2.7</text><text x="338" y="1253">3.0</text>
</g>
<text x="230" y="1284" font-size="25" text-anchor="middle" fill="#111">Impact speed (m s<tspan font-size="15" dy="-10">-1</tspan><tspan dy="10">)</tspan></text>
<text transform="translate(24 1073) rotate(-90)" font-size="25" text-anchor="middle" fill="#111">Number of drops (×10<tspan font-size="15" dy="-10">4</tspan><tspan dy="10">)</tspan></text>

<!-- ================= PANEL E ================= -->
<text x="422" y="888" font-size="32" font-weight="bold">e</text>
<text x="648" y="895" font-size="22" text-anchor="middle" fill="#111">High-speed raindrop impacts</text>
<rect x="503" y="932" width="325" height="284" fill="#dde3f3"/>
<path d="M503 932 L535 932 C540 980 540 1010 543 1027 C548 1050 553 1065 563 1077 C575 1095 585 1106 593 1113 C610 1128 622 1138 637 1147 C655 1160 670 1170 687 1180 C705 1192 720 1204 737 1216 L503 1216Z" fill="#f6e0ef"/>
<g stroke="#666" stroke-width="1">
  <path d="M752 1118 L770 1118 L768 1165 L764 1208 L750 1210 L752 1165Z" fill="#f4efec"/>
  <path d="M775 1118 L795 1118 L806 1150 L798 1180 L786 1178 L792 1152Z" fill="#f4efec"/>
  <path d="M736 1020 L726 1045 L732 1050 L745 1030Z" fill="#f4efec"/>
  <path d="M790 1025 L798 1078 L790 1080 L782 1030Z" fill="#f4efec"/>
  <path d="M742 990 L790 990 L800 1032 L790 1034 L788 1082 L746 1082 L744 1035 L734 1032Z" fill="#58627c"/>
  <path d="M746 1080 L790 1080 L796 1122 L770 1126 L748 1124Z" fill="#8c8c90"/>
  <path d="M762 978 L775 978 L775 992 L762 992Z" fill="#eee6e2"/>
  <ellipse cx="768" cy="968" rx="12" ry="15" fill="#f1e8e4"/>
</g>
<path d="M756 964 C756 948 782 948 781 964 L778 960 L758 960Z" fill="#111"/>
<rect x="757" y="963" width="22" height="5" rx="2" fill="#111"/>
<path d="M758 972 L779 972 L777 982 L760 982Z" fill="#b6c8dc"/>
<g stroke="#222" stroke-width="1.5">
  <line x1="503" y1="1003" x2="513" y2="1003"/><line x1="503" y1="1074" x2="513" y2="1074"/><line x1="503" y1="1145" x2="513" y2="1145"/>
</g>
<rect x="503" y="932" width="325" height="284" fill="none" stroke="#222" stroke-width="1.5"/>
<g font-size="22" fill="#111" text-anchor="end">
  <text x="496" y="940">16</text><text x="496" y="1011">12</text><text x="496" y="1082">8</text><text x="496" y="1153">4</text><text x="496" y="1224">0</text>
</g>
<text transform="translate(456 1075) rotate(-90)" font-size="25" text-anchor="middle" fill="#111">Rotational speed (m s<tspan font-size="15" dy="-10">-1</tspan><tspan dy="10">)</tspan></text>
<text x="513" y="951" font-size="15.5" fill="#4a5a86">The fastest running speed: <tspan fill="#a8283c">10.4 m s<tspan font-size="10" dy="-6">-1</tspan></tspan></text>
<text x="513" y="973" font-size="15.5" fill="#4a5a86">Recorded: <tspan font-style="italic">Usain Bolt</tspan></text>
<use href="#star" x="533" y="1012"/><use href="#star" x="533" y="1040"/><use href="#star" x="533" y="1070"/><use href="#star" x="533" y="1098"/><use href="#star" x="533" y="1127"/><use href="#star" x="533" y="1156"/><use href="#star" x="533" y="1185"/>
<use href="#star" x="585" y="1127"/><use href="#star" x="585" y="1156"/><use href="#star" x="585" y="1185"/>
<use href="#star" x="638" y="1156"/><use href="#star" x="638" y="1185"/>
<circle cx="533" cy="983" r="5" fill="#444"/>
<circle cx="585" cy="1098" r="5" fill="#444"/>
<circle cx="638" cy="1127" r="5" fill="#444"/>
<g fill="none" stroke="#3a4a66" stroke-width="1.5" stroke-dasharray="5 4">
  <circle cx="533" cy="1012" r="13"/><circle cx="585" cy="1098" r="13"/><circle cx="638" cy="1127" r="13"/>
</g>
<g font-size="18" fill="#3e4f70">
  <text x="552" y="1019">11.6 m s<tspan font-size="11" dy="-7">-1</tspan></text>
  <text x="600" y="1086">6.6 m s<tspan font-size="11" dy="-7">-1</tspan></text>
  <text x="653" y="1114">5.0 m s<tspan font-size="11" dy="-7">-1</tspan></text>
</g>
<g font-size="22" text-anchor="end">
  <text transform="translate(545 1232) rotate(-45)" fill="#a8283c">MARS</text>
  <text transform="translate(606 1232) rotate(-45)" fill="#111">Capstone-FS</text>
  <text transform="translate(660 1230) rotate(-45)" fill="#111">Ultra-Ever Dry</text>
</g>

<!-- ================= PANEL F ================= -->
<text x="860" y="888" font-size="32" font-weight="bold">f</text>
<text x="1083" y="895" font-size="22" text-anchor="middle" fill="#111">Bundesmann water repellency</text>
<rect x="865" y="935" width="115" height="255" fill="#f6f6f6" stroke="#666" stroke-width="2"/>
<rect x="885" y="975" width="78" height="140" fill="#fbfbfb"/>
<path d="M865 935 L980 935 L962 976 L884 976Z" fill="#5e6060"/>
<ellipse cx="922" cy="952" rx="23" ry="10" fill="#c8cacc" stroke="#888"/>
<rect x="897" y="960" width="50" height="150" fill="url(#rain)"/>
<rect x="875" y="1115" width="100" height="50" fill="#e6e8ea"/>
<rect x="865" y="1168" width="115" height="22" fill="#5a5c5e"/>
<rect x="866" y="1040" width="6" height="30" fill="#333"/>
<g stroke="#28a8c8" stroke-width="2" stroke-dasharray="6 4" fill="none">
  <line x1="853" y1="955" x2="853" y2="1162"/>
  <line x1="845" y1="950" x2="905" y2="950"/>
  <line x1="845" y1="1165" x2="928" y2="1165"/>
</g>
<path d="M848 958 L853 948 L858 958Z M848 1158 L853 1168 L858 1158Z" fill="#28a8c8"/>
<text transform="translate(848 1060) rotate(-90)" font-size="17" text-anchor="middle" fill="#28a0c0">1.5 m</text>
<path d="M862 1212 L862 1272 Q862 1280 870 1280 L898 1280 Q906 1280 906 1272 L906 1212" fill="#fff" stroke="#a0a0a0" stroke-width="5"/>
<path d="M933 1240 Q950 1234 965 1240 Q980 1246 994 1238 L994 1272 Q994 1280 986 1280 L942 1280 Q934 1280 934 1272Z" fill="#c4cef2"/>
<path d="M934 1212 L934 1272 Q934 1280 942 1280 L986 1280 Q994 1280 994 1272 L994 1212 L999 1208" fill="none" stroke="#a0a0a0" stroke-width="5"/>
<g stroke="#a8a8a8" stroke-width="3">
  <line x1="877" y1="1222" x2="889" y2="1222"/><line x1="877" y1="1240" x2="889" y2="1240"/><line x1="877" y1="1258" x2="889" y2="1258"/><line x1="877" y1="1273" x2="889" y2="1273"/>
  <line x1="958" y1="1222" x2="970" y2="1222"/><line x1="958" y1="1240" x2="970" y2="1240"/><line x1="958" y1="1258" x2="970" y2="1258"/><line x1="958" y1="1273" x2="970" y2="1273"/>
</g>
<text x="876" y="1306" font-size="20" text-anchor="middle" fill="#a8283c">MARS</text>
<text x="970" y="1306" font-size="20" text-anchor="middle" fill="#6a88a8">Capstone-FS</text>
<rect x="1066" y="936" width="75" height="112" fill="#050505"/>
<circle cx="1098" cy="966" r="24" fill="#f2ddd0" stroke="#c83030" stroke-width="2.5" stroke-dasharray="6 3"/>
<circle cx="1098" cy="1021" r="24" fill="#dcc8a8" stroke="#5a6ad0" stroke-width="2.5" stroke-dasharray="6 3"/>
<text x="1098" y="973" font-size="19" text-anchor="middle" fill="#c03030">100</text>
<text x="1098" y="1028" font-size="19" text-anchor="middle" fill="#90a0c8">50</text>
<text x="1128" y="1038" font-size="10" text-anchor="middle" fill="#fff">5 cm</text>
<rect x="1124" y="1043" width="10" height="2" fill="#fff"/>
<line x1="1073" y1="1215" x2="1093" y2="1215" stroke="#333" stroke-width="1.5"/>
<rect x="1097" y="1207" width="22" height="9" fill="#e2dce4" stroke="#666" stroke-width="1"/>
<rect x="1148" y="984" width="21" height="232" fill="#c8d8ec" stroke="#7a8898" stroke-width="1"/>
<rect x="1173" y="1017" width="20" height="199" fill="#e6dde8" stroke="#8a8890" stroke-width="1"/>
<g stroke="#333" stroke-width="1.3">
  <line x1="1154" y1="983" x2="1163" y2="983"/><line x1="1179" y1="1014" x2="1187" y2="1014"/><line x1="1183" y1="1013" x2="1183" y2="1018"/>
  <line x1="1058" y1="1028" x2="1068" y2="1028"/><line x1="1058" y1="1122" x2="1068" y2="1122"/>
  <line x1="1209" y1="988" x2="1200" y2="988"/><line x1="1209" y1="1045" x2="1200" y2="1045"/><line x1="1209" y1="1102" x2="1200" y2="1102"/><line x1="1209" y1="1159" x2="1200" y2="1159"/>
</g>
<rect x="1058" y="931" width="151" height="285" fill="none" stroke="#222" stroke-width="1.5"/>
<text transform="translate(1166 1098) rotate(-90)" font-size="19" text-anchor="middle" fill="#7090c8">243.7 mL</text>
<text transform="translate(1097 1185) rotate(-90)" font-size="19" text-anchor="middle" fill="#8a2030">0 mL</text>
<g font-size="23" fill="#2e7f9c" text-anchor="end">
  <text x="1056" y="942">300</text><text x="1056" y="1036">200</text><text x="1056" y="1130">100</text><text x="1043" y="1225">0</text>
</g>
<g font-size="23" fill="#a09aa8">
  <text x="1212" y="940">100</text><text x="1216" y="996">80</text><text x="1216" y="1053">60</text><text x="1216" y="1110">40</text><text x="1216" y="1167">20</text><text x="1226" y="1224">0</text>
</g>
<text transform="translate(1006 1072) rotate(-90)" font-size="26" text-anchor="middle" fill="#2e7f9c">Volume (ml)</text>
<text transform="translate(1258 1072) rotate(90)" font-size="26" text-anchor="middle" fill="#b8aac2">Water absorption (%)</text>
<g font-size="22" text-anchor="end">
  <text transform="translate(1108 1226) rotate(-45)" fill="#a8283c">MARS</text>
  <text transform="translate(1176 1230) rotate(-45)" fill="#6a88a8">Capstone-FS</text>
</g>
</svg>
</body></html>
